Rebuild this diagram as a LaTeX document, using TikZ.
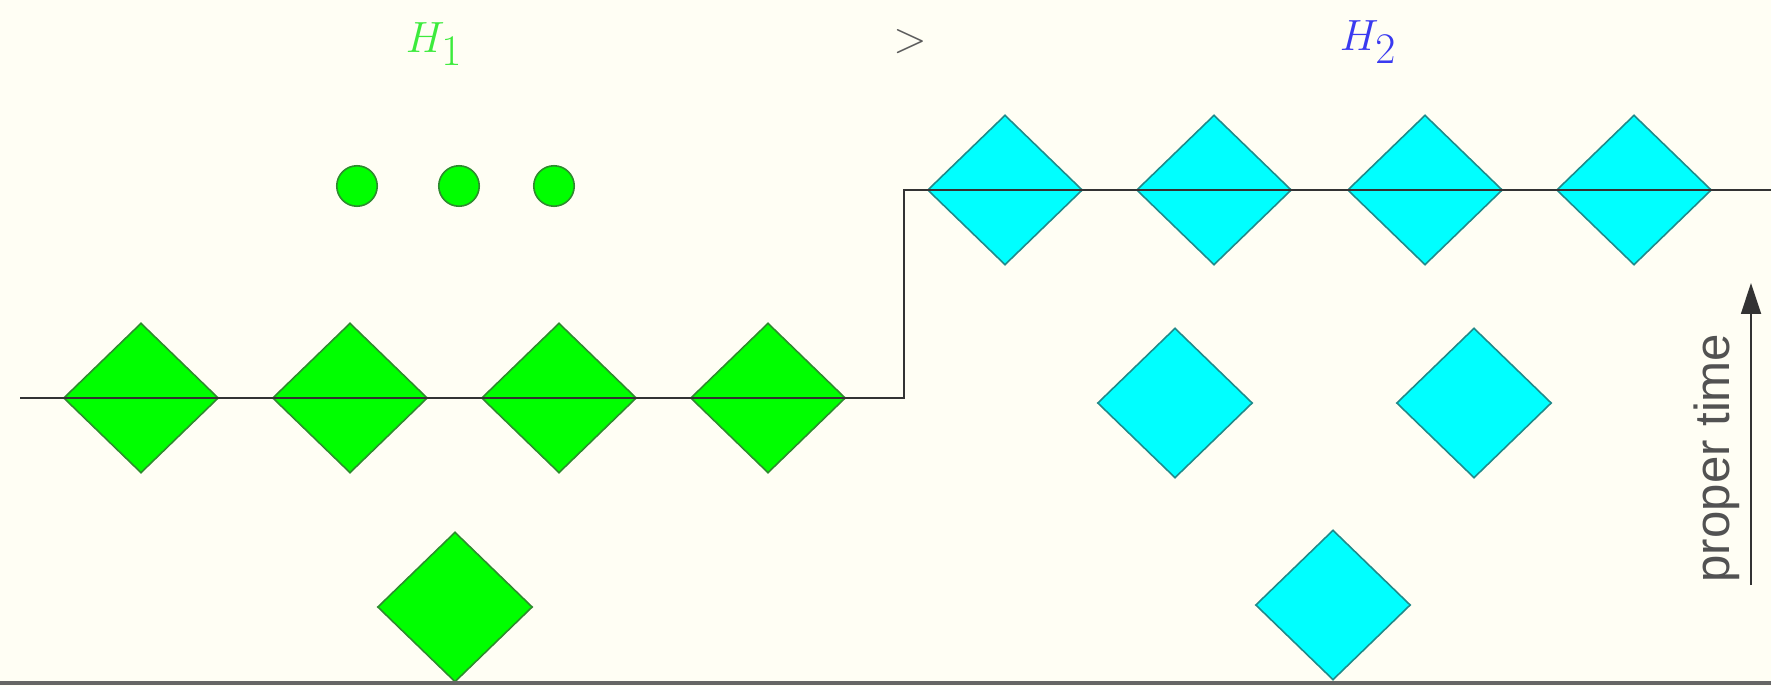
\documentclass[tikz,border=0pt]{standalone}
\usepackage{fontspec}
\newfontfamily\labelsans{Liberation Sans}
\usetikzlibrary{shapes.geometric,arrows.meta}
\definecolor{bgc}{HTML}{FFFEF4}
\definecolor{gfill}{HTML}{00FF00}
\definecolor{gedge}{HTML}{2E8B2E}
\definecolor{cfill}{HTML}{00FFFF}
\definecolor{cedge}{HTML}{1F8A8A}
\definecolor{hone}{HTML}{3CEB3C}
\definecolor{htwo}{HTML}{3A3AF0}
\definecolor{linec}{HTML}{333333}
\tikzset{
  gdia/.style={diamond, draw=gedge, fill=gfill, line width=0.9pt, inner sep=0pt, aspect=1, minimum width=3.1cm, minimum height=3.0cm},
  cdia/.style={diamond, draw=cedge, fill=cfill, line width=0.9pt, inner sep=0pt, aspect=1, minimum width=3.1cm, minimum height=3.0cm},
  gdot/.style={circle, draw=gedge, fill=gfill, line width=0.9pt, inner sep=0pt, minimum size=0.81cm},
  wline/.style={draw=linec, line width=1.1pt},
  heading/.style={font=\fontsize{40}{44}\selectfont, inner sep=0pt}
}
\begin{document}
\begin{tikzpicture}[x=0.02cm, y=-0.02cm]
\fill[bgc] (0,0) rectangle (1771,686);
\useasboundingbox (0,0) rectangle (1771,686);
% headings
\node[heading, text=hone] (h1) at (434,44) {$H_1$};
\node[heading, text=linec!80] (gt) at (910,42) {$>$};
\node[heading, text=htwo] (h2) at (1368,42) {$H_2$};
% green dots
\node[gdot] (d1) at (357,186) {};
\node[gdot] (d2) at (459,186) {};
\node[gdot] (d3) at (554,186) {};
% green diamonds
\node[gdia] (g1) at (141,398) {};
\node[gdia] (g2) at (350,398) {};
\node[gdia] (g3) at (559,398) {};
\node[gdia] (g4) at (768,398) {};
\node[gdia] (g5) at (455,607) {};
% cyan diamonds
\node[cdia] (c1) at (1005,190) {};
\node[cdia] (c2) at (1214,190) {};
\node[cdia] (c3) at (1425,190) {};
\node[cdia] (c4) at (1634,190) {};
\node[cdia] (c5) at (1175,403) {};
\node[cdia] (c6) at (1474,403) {};
\node[cdia] (c7) at (1333,605) {};
% world line
\coordinate (l0) at (20,398);
\coordinate (l1) at (904,398);
\coordinate (l2) at (904,190);
\coordinate (l3) at (1771,190);
\draw[wline] (l0) -- (l1) -- (l2) -- (l3);
% bottom line
\coordinate (b0) at (0,683);
\coordinate (b1) at (1771,683);
\draw[draw=gray!80!black, line width=2.2pt] (b0) -- (b1);
% proper time arrow
\coordinate (a0) at (1751,585);
\coordinate (a1) at (1751,283);
\draw[draw=linec, line width=1pt, -{Triangle[length=0.62cm, width=0.4cm]}] (a0) -- (a1);
\node[rotate=90, text=linec!85, font=\labelsans\fontsize{28}{30}\selectfont, inner sep=0pt] (pt) at (1717,458) {proper time};
\end{tikzpicture}
\end{document}
